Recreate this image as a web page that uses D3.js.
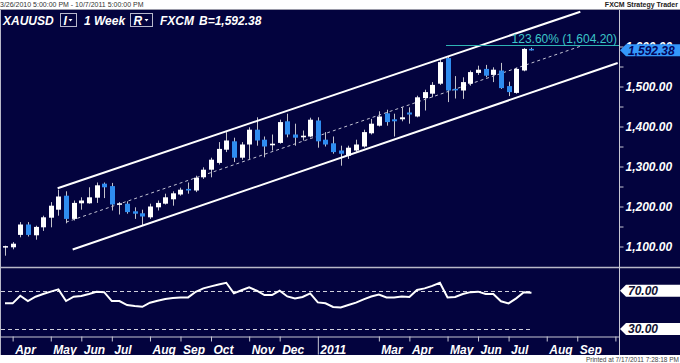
<!DOCTYPE html>
<html lang="en">
<head>
<meta charset="utf-8">
<title>XAUUSD 1 Week</title>
<script src="https://d3js.org/d3.v7.min.js"></script>
<style>
body { margin: 0; background: #fff; }
svg { display: block; font-family: "Liberation Sans", Arial, sans-serif; }
</style>
</head>
<body>
<script>

// weekly candles, first bar on Friday 3/26/2010
var startDate = "2010-03-26";
var endDate = "2011-10-07";

var opens  = [1098,1098,1129,1155,1128,1148,1172,1192,1227,1169,1208,1208,1222,1257,1251,1205,1207,1188,1183,1173,
              1198,1207,1218,1230,1244,1240,1273,1292,1309,1342,1363,1322,1355,1392,1367,1353,1359,1413,1380,1373,
              1375,1415,1367,1358,1340,1327,1340,1350,1383,1402,1433,1418,1418,1435,1425,1471,1482,1507,1571,1494,
              1490,1507,1534,1544,1529,1540,1501,1484,1540,1594];
var highs  = [1102,1111,1161,1161,1152,1177,1211,1242,1238,1215,1223,1248,1260,1260,1259,1211,1213,1198,1192,1207,
              1215,1232,1238,1247,1260,1277,1298,1322,1361,1386,1372,1361,1398,1423,1375,1380,1417,1432,1407,1390,
              1422,1423,1386,1375,1352,1352,1367,1392,1419,1438,1442,1432,1448,1448,1477,1492,1511,1567,1576,1526,
              1523,1540,1552,1554,1548,1559,1512,1547,1596,1597];
var lows   = [1077,1093,1123,1125,1117,1139,1148,1177,1158,1165,1192,1207,1209,1221,1190,1180,1182,1169,1152,1169,
              1190,1205,1202,1227,1232,1236,1269,1273,1305,1336,1311,1317,1319,1352,1323,1340,1357,1373,1352,1365,
              1373,1347,1350,1332,1302,1319,1336,1347,1380,1400,1402,1375,1413,1407,1423,1440,1473,1504,1461,1470,
              1469,1502,1529,1523,1511,1494,1476,1482,1538,1590];
var closes = [1101,1107,1155,1129,1149,1173,1202,1225,1169,1209,1215,1223,1253,1248,1205,1208,1186,1182,1175,1200,
              1209,1223,1233,1242,1240,1272,1292,1317,1344,1365,1322,1355,1392,1365,1350,1357,1411,1380,1372,1377,
              1417,1363,1355,1336,1332,1347,1355,1386,1407,1425,1411,1413,1423,1430,1473,1486,1504,1561,1490,1492,
              1511,1536,1542,1527,1542,1496,1486,1544,1594,1592.38];

var rsi = [56.8,56.8,64.7,59.2,63.7,66.5,69,71.4,59.2,63.7,64.5,66.5,68.9,68.5,59.2,59.2,55,54,53.2,57.5,
           59.5,61.3,62.3,63,63,68.9,72.4,74.5,76.5,78.3,67.2,70.5,73.5,70,65.4,65.4,70,64,62,63.5,
           67.2,57.8,56.8,53,52.4,55,57.5,61,64,66,63,63,64,63.5,70.7,72.4,75,78.3,63,63.5,
           66.5,68.5,69,66.5,66.5,59,56.8,62,68.3,67.9];

// drawn studies: [week index, price]
var upperChannel = [[6.9, 1245.5], [75.4, 1687]];
var lowerChannel = [[8.87, 1092.5], [80.3, 1558.8]];
var midChannel   = [[8.0, 1160.8], [75.4, 1600.5]];
var fibStart = 57.8;
var fibLevel = 1604.20;
var fibPct = "123.60%";

var priceTicks = [1100, 1150, 1200, 1250, 1300, 1350, 1400, 1450, 1500, 1550, 1600];
var rsiLevels = [70, 30];
var lastPrice = 1592.38;

var monthTicks = [
  ["2010-04-02","Apr"],["2010-05-07","May"],["2010-06-04","Jun"],["2010-07-02","Jul"],
  ["2010-08-06","Aug"],["2010-09-03","Sep"],["2010-10-01","Oct"],["2010-11-05","Nov"],
  ["2010-12-03","Dec"],["2011-01-07","2011"],["2011-03-04","Mar"],["2011-04-01","Apr"],
  ["2011-05-06","May"],["2011-06-03","Jun"],["2011-07-01","Jul"],["2011-08-05","Aug"],
  ["2011-09-02","Sep"],["2011-10-07",""]
];

var W = 680, H = 363;
var navy = "#03033e";
var parse = d3.utcParse("%Y-%m-%d");
var t0 = parse(startDate);
function weekDate(i) { return new Date(t0.getTime() + i * 7 * 864e5); }

var x = d3.scaleUtc().domain([t0, parse(endDate)]).range([5, 615.4]);
var y = d3.scaleLinear().domain([1100, 1600]).range([246.5, 46.5]);
var yr = d3.scaleLinear().domain([30, 70]).range([329, 290.7]);

var svg = d3.select("body").append("svg")
    .attr("width", W)
    .attr("height", H);

svg.append("rect").attr("width", W).attr("height", H).attr("fill", "#fff");
svg.append("rect").attr("x", 0).attr("y", 10).attr("width", W).attr("height", 345).attr("fill", navy);

// top / bottom strips
svg.append("line").attr("x1", 0).attr("x2", W).attr("y1", 9.5).attr("y2", 9.5).attr("stroke", "#9a9aa8");
svg.append("text").attr("x", 0).attr("y", 7).attr("font-size", "7px").attr("fill", "#333")
    .text("3/26/2010 5:00:00 PM - 10/7/2011 5:00:00 PM");
svg.append("text").attr("x", 678).attr("y", 7).attr("font-size", "7px").attr("font-weight", "bold")
    .attr("text-anchor", "end").attr("fill", "#222").text("FXCM Strategy Trader");
svg.append("text").attr("x", 679).attr("y", 361.5).attr("font-size", "6.5px")
    .attr("text-anchor", "end").attr("fill", "#444").text("Printed at 7/17/2011 7:28:18 PM");

// frame lines
svg.append("line").attr("x1", 0.5).attr("x2", 0.5).attr("y1", 10).attr("y2", 355).attr("stroke", "#b8b8c8");
svg.append("line").attr("x1", 0).attr("x2", W).attr("y1", 267.5).attr("y2", 267.5).attr("stroke", "#b8b8c8").attr("stroke-width", 1.5);
svg.append("line").attr("x1", 619.5).attr("x2", 619.5).attr("y1", 10).attr("y2", 355).attr("stroke", "#c8c8d4");

svg.append("clipPath").attr("id", "mainClip")
  .append("rect").attr("x", 1).attr("y", 10).attr("width", 618).attr("height", 257);

var plot = svg.append("g").attr("clip-path", "url(#mainClip)");

var lineXY = d3.line()
    .x(function(p) { return x(weekDate(p[0])); })
    .y(function(p) { return y(p[1]); });

// dashed middle line of the channel
plot.append("path").attr("d", lineXY(midChannel))
    .attr("fill", "none").attr("stroke", "#c4c4d4").attr("stroke-dasharray", "3,3");

// candles
var candles = opens.map(function(o, i) {
  return {date: weekDate(i), o: o, h: highs[i], l: lows[i], c: closes[i]};
});

plot.append("g").selectAll("line")
    .data(candles).join("line")
    .attr("x1", function(d) { return Math.round(x(d.date)) + 0.5; })
    .attr("x2", function(d) { return Math.round(x(d.date)) + 0.5; })
    .attr("y1", function(d) { return y(d.h); })
    .attr("y2", function(d) { return y(d.l); })
    .attr("stroke", "#c4c4cc");

plot.append("g").selectAll("rect")
    .data(candles).join("rect")
    .attr("x", function(d) { return Math.round(x(d.date)) - 2; })
    .attr("width", 5)
    .attr("y", function(d) { return y(Math.max(d.o, d.c)); })
    .attr("height", function(d) { return Math.max(1.5, Math.abs(y(d.o) - y(d.c))); })
    .attr("fill", function(d) { return d.c >= d.o ? "#ffffff" : "#2f8cf0"; });

// channel lines
[upperChannel, lowerChannel].forEach(function(seg) {
  plot.append("path").attr("d", lineXY(seg))
      .attr("fill", "none").attr("stroke", "#fff").attr("stroke-width", 2);
});

// fibonacci projection level
plot.append("line")
    .attr("x1", x(weekDate(fibStart))).attr("x2", 619)
    .attr("y1", Math.round(y(fibLevel)) + 0.5).attr("y2", Math.round(y(fibLevel)) + 0.5)
    .attr("stroke", "#2fb4b4");
plot.append("text")
    .attr("x", 617).attr("y", y(fibLevel) - 2)
    .attr("text-anchor", "end").attr("font-size", "12px").attr("fill", "#3cc6c8")
    .text(fibPct + " (" + d3.format(",.2f")(fibLevel) + ")");

// header
var hdr = svg.append("g").attr("font-size", "12px").attr("font-weight", "bold")
    .attr("font-style", "italic").attr("fill", "#fff");
hdr.append("text").attr("x", 3).attr("y", 25).text("XAUUSD");
hdr.append("text").attr("x", 84).attr("y", 25).text("1 Week");
hdr.append("text").attr("x", 160).attr("y", 25).text("FXCM");
hdr.append("text").attr("x", 199).attr("y", 25).text("B=" + d3.format(",.2f")(lastPrice));
[[60.5, 16, "I"], [130.5, 22, "R"]].forEach(function(b) {
  svg.append("rect").attr("x", b[0]).attr("y", 13.5).attr("width", b[1]).attr("height", 13)
      .attr("fill", "none").attr("stroke", "#b8b8cc");
  hdr.append("text").attr("x", b[0] + 3).attr("y", 25).text(b[2]);
  var tx = b[0] + b[1] - 6;
  svg.append("path").attr("d", "M" + (tx - 2) + ",19 L" + (tx + 2) + ",19 L" + tx + ",21.5 Z").attr("fill", "#fff");
});

// price axis (top label sits partly under the last-price tag, as in the original)
var yAxis = svg.append("g").attr("transform", "translate(619.5,0)")
    .call(d3.axisRight(y).tickValues(priceTicks).tickSize(4)
      .tickFormat(function(d) { return d % 100 === 0 ? d3.format(",.2f")(d) : ""; }));
yAxis.select(".domain").remove();
yAxis.selectAll("line").attr("stroke", "#c8c8d4");
yAxis.selectAll("text").attr("x", 6).attr("fill", "#fff").attr("font-size", "12px")
    .attr("font-weight", "bold").attr("font-style", "italic")
    .attr("font-family", "'Liberation Sans', Arial, sans-serif");

function tag(cy, fill, label, color) {
  svg.append("path")
      .attr("d", "M620," + cy + " L626," + (cy - 6) + " L680," + (cy - 6) + " L680," + (cy + 6) + " L626," + (cy + 6) + " Z")
      .attr("fill", fill);
  svg.append("text").attr("x", 628).attr("y", cy + 4.3)
      .attr("font-size", "12px").attr("font-weight", "bold").attr("font-style", "italic")
      .attr("fill", color).text(label);
}
tag(y(lastPrice) + 0.8, "#3497fa", d3.format(",.2f")(lastPrice), "#04045a");

// RSI panel
var rsiG = svg.append("g");
rsiLevels.forEach(function(v) {
  rsiG.append("line").attr("x1", 1).attr("x2", x(weekDate(rsi.length - 1)))
      .attr("y1", Math.round(yr(v)) + 0.5).attr("y2", Math.round(yr(v)) + 0.5)
      .attr("stroke", "#d0d0dc").attr("stroke-dasharray", "4,3");
  tag(yr(v), "#ffffff", d3.format(".2f")(v), "#111133");
});
rsiG.append("path")
    .attr("d", d3.line()
      .x(function(v, i) { return x(weekDate(i)); })
      .y(function(v) { return yr(v); })(rsi))
    .attr("fill", "none").attr("stroke", "#fff").attr("stroke-width", 2);

// time axis
var tickDates = monthTicks.map(function(m) { return parse(m[0]); });
var tickLabel = {};
monthTicks.forEach(function(m) { tickLabel[m[0]] = m[1]; });
var fmtKey = d3.utcFormat("%Y-%m-%d");
var xAxis = svg.append("g").attr("transform", "translate(0,336.5)")
    .call(d3.axisBottom(x).tickValues(tickDates).tickSize(5)
      .tickFormat(function(d) { return tickLabel[fmtKey(d)]; }));
xAxis.select(".domain").attr("d", "M0,0.5H619").attr("stroke", "#c8c8d4");
xAxis.selectAll("line").attr("stroke", "#c8c8d4");
xAxis.selectAll("text").attr("text-anchor", "start").attr("x", 2).attr("y", 6).attr("dy", "0.95em")
    .attr("fill", "#fff").attr("font-size", "12px").attr("font-weight", "bold").attr("font-style", "italic")
    .attr("font-family", "'Liberation Sans', Arial, sans-serif");
// year separator
xAxis.selectAll(".tick").filter(function(d) { return tickLabel[fmtKey(d)] === "2011"; })
    .select("line").attr("y2", 18);

</script>
</body>
</html>
